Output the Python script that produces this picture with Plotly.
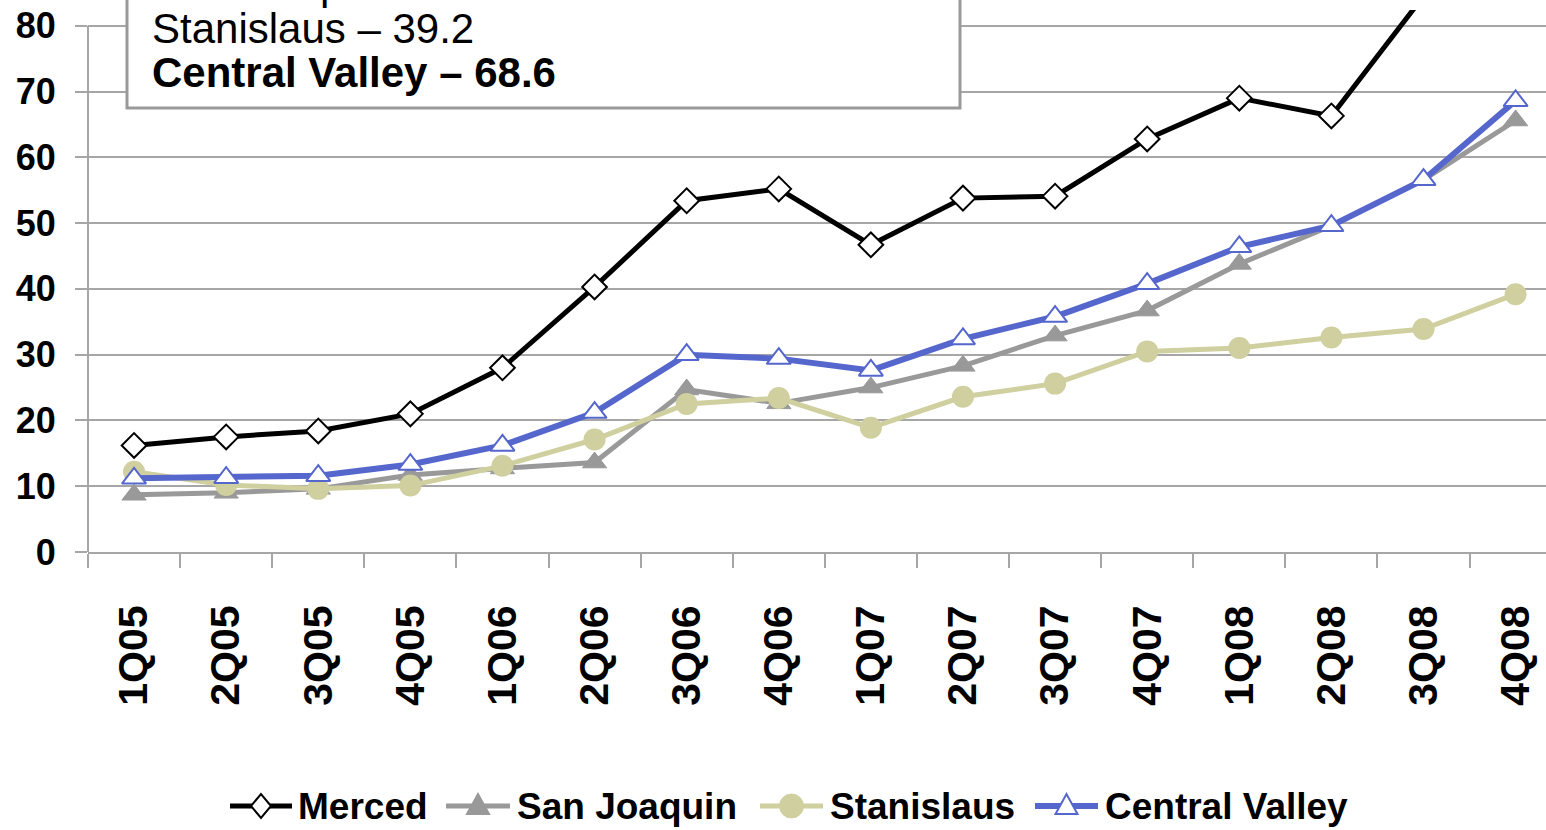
import plotly.graph_objects as go

# Quarterly series
quarters = ["1Q05", "2Q05", "3Q05", "4Q05", "1Q06", "2Q06", "3Q06", "4Q06",
            "1Q07", "2Q07", "3Q07", "4Q07", "1Q08", "2Q08", "3Q08", "4Q08"]

merced = [16.2, 17.5, 18.4, 21.0, 28.0, 40.3, 53.4, 55.2,
          46.7, 53.8, 54.1, 62.8, 69.0, 66.3, 84.5, 93.0]
san_joaquin = [8.7, 9.0, 9.6, 11.7, 12.7, 13.6, 24.7, 22.6,
               25.0, 28.3, 32.9, 36.7, 43.8, 49.6, 56.6, 65.6]
stanislaus = [12.2, 10.2, 9.6, 10.1, 13.1, 17.1, 22.5, 23.4,
              18.9, 23.6, 25.6, 30.5, 31.0, 32.6, 33.9, 39.2]
central_valley = [11.2, 11.3, 11.6, 13.3, 16.2, 21.2, 30.0, 29.4,
                  27.6, 32.4, 35.8, 40.8, 46.4, 49.6, 56.6, 68.6]

y_ticks = [0, 10, 20, 30, 40, 50, 60, 70, 80]

FONT = "Arial, Liberation Sans, sans-serif"
GRID = "#A6A6A6"
BLACK = "black"
GREY = "#999999"
KHAKI = "#CFCF9F"
BLUE = "#5566CC"

W, H = 1546, 830
L, T, B = 88, 10, 278
Y_MAX = 82.4


def px_x(p):
    return (p - L) / (W - L)


def px_y(p):
    return ((H - B) - p) / (H - B - T)


series = [
    dict(name="Merced", y=merced, color=BLACK, width=5,
         marker=dict(symbol="diamond", size=19, color="white",
                     line=dict(color=BLACK, width=2))),
    dict(name="San Joaquin", y=san_joaquin, color=GREY, width=5,
         marker=dict(symbol="triangle-up", size=21, color=GREY,
                     line=dict(color=GREY, width=1))),
    dict(name="Stanislaus", y=stanislaus, color=KHAKI, width=5,
         marker=dict(symbol="circle", size=22, color=KHAKI)),
    dict(name="Central Valley", y=central_valley, color=BLUE, width=6,
         marker=dict(symbol="triangle-up", size=21, color="white",
                     line=dict(color=BLUE, width=2))),
]

fig = go.Figure()
for s in series:
    fig.add_trace(go.Scatter(
        x=quarters, y=s["y"], name=s["name"], mode="lines+markers",
        line=dict(color=s["color"], width=s["width"]),
        marker=s["marker"], showlegend=False,
    ))

# y-axis spine running only up to the top gridline
fig.add_shape(type="line", xref="paper", yref="y", x0=0, x1=0, y0=0, y1=80,
              line=dict(color=GRID, width=2), layer="above")

# callout box with latest values
fig.add_shape(type="rect", xref="paper", yref="paper",
              x0=px_x(127), x1=px_x(960), y0=px_y(108), y1=px_y(-200),
              line=dict(color=GREY, width=3), fillcolor="white",
              layer="above")

box_lines = [
    ("San Joaquin – 65.6", "normal", -15.5),
    ("Stanislaus – 39.2", "normal", 28.5),
    ("Central Valley – 68.6", "bold", 72.5),
]
for text, weight, ymid in box_lines:
    fig.add_annotation(
        text=text, xref="paper", yref="paper", x=px_x(150), y=px_y(ymid),
        xanchor="left", yanchor="middle", showarrow=False,
        font=dict(family=FONT, size=42, color="black", weight=weight),
    )

# legend row under the axis: line sample, marker glyph, label
LEG_Y = 806
legend_items = [
    # (line start, line end, label start) in pixels
    (230, 292, 298),
    (446, 510, 517),
    (760, 823, 830),
    (1035, 1098, 1105),
]
glyphs = {
    "diamond": "M-10,0 L0,12 L10,0 L0,-12 Z",
    "triangle-up": "M-11,-8 L11,-8 L0,12 Z",
    "circle": None,
}
for s, (x0, x1, xt) in zip(series, legend_items):
    fig.add_shape(type="line", xref="paper", yref="paper",
                  x0=px_x(x0), x1=px_x(x1), y0=px_y(LEG_Y), y1=px_y(LEG_Y),
                  line=dict(color=s["color"], width=s["width"]))
    m = s["marker"]
    cx = (x0 + x1) / 2
    fill = m["color"]
    edge = m.get("line", {}).get("color", m["color"])
    if m["symbol"] == "circle":
        fig.add_shape(type="circle", xref="paper", yref="paper",
                      xsizemode="pixel", ysizemode="pixel",
                      xanchor=px_x(cx), yanchor=px_y(LEG_Y),
                      x0=-12, x1=12, y0=-12, y1=12,
                      fillcolor=fill, line=dict(color=edge, width=1))
    else:
        fig.add_shape(type="path", xref="paper", yref="paper",
                      xsizemode="pixel", ysizemode="pixel",
                      xanchor=px_x(cx), yanchor=px_y(LEG_Y),
                      path=glyphs[m["symbol"]],
                      fillcolor=fill, line=dict(color=edge, width=2))
    fig.add_annotation(
        text=s["name"], xref="paper", yref="paper", x=px_x(xt - 2),
        y=px_y(LEG_Y), xanchor="left", yanchor="middle", showarrow=False,
        font=dict(family=FONT, size=37, color="black", weight="bold"),
    )

fig.update_layout(
    width=W, height=H,
    margin=dict(l=L, r=0, t=T, b=B),
    paper_bgcolor="white", plot_bgcolor="white",
    font=dict(family=FONT, color="black"),
    showlegend=False,
    xaxis=dict(
        type="category", categoryorder="array", categoryarray=quarters,
        range=[-0.5, 15.33],
        tickson="boundaries", ticks="outside", ticklen=14, tickwidth=2,
        tickcolor=GRID, showline=True, linecolor=GRID, linewidth=2,
        showgrid=False, zeroline=False,
        tickangle=-90, ticklabelstandoff=35,
        tickfont=dict(family=FONT, size=41, color="black", weight="bold"),
    ),
    yaxis=dict(
        range=[0, Y_MAX], tickvals=y_ticks, ticktext=[str(v) for v in y_ticks],
        showgrid=True, gridcolor=GRID, gridwidth=2,
        showline=False, zeroline=False,
        ticks="outside", ticklen=12, tickwidth=2, tickcolor=GRID,
        ticklabelstandoff=12,
        tickfont=dict(family=FONT, size=36, color="black", weight="bold"),
    ),
)

fig.write_html("out.html")
